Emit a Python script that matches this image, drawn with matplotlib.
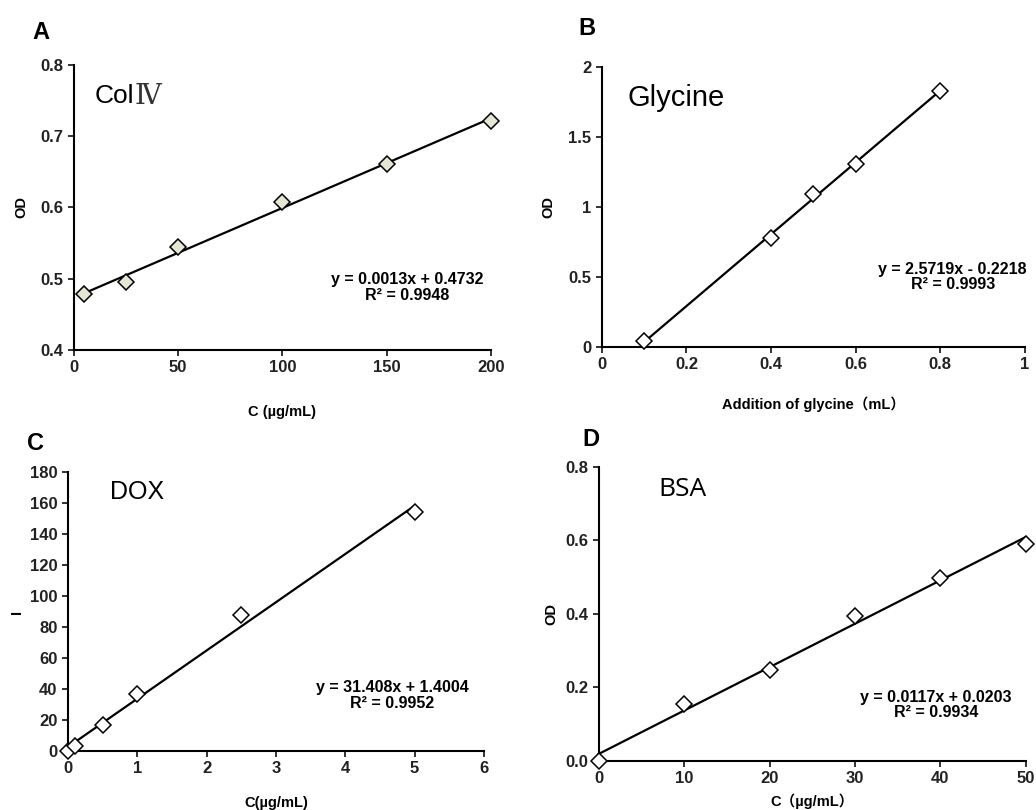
import matplotlib
matplotlib.use("Agg")
import matplotlib.pyplot as plt
import numpy as np

plt.rcParams['font.family'] = ['Liberation Sans', 'Noto Sans CJK SC', 'DejaVu Sans']

# panel A - Col IV
a_x = [5, 25, 50, 100, 150, 200]
a_y = [0.478, 0.495, 0.545, 0.608, 0.661, 0.721]
# panel B - glycine
b_x = [0.1, 0.4, 0.5, 0.6, 0.8]
b_y = [0.04, 0.78, 1.09, 1.31, 1.83]
# panel C - DOX
c_x = [0, 0.1, 0.5, 1, 2.5, 5]
c_y = [0, 3, 17, 37, 88, 154]
# panel D - BSA
d_x = [0, 10, 20, 30, 40, 50]
d_y = [0.0, 0.155, 0.248, 0.394, 0.498, 0.591]

fig = plt.figure(figsize=(10.36, 8.1), dpi=100)

def panel(rect, x, y, xlim, ylim, xticks, yticks, yfmt, xlab, ylab,
          eq, eq_pos, mfc, xpad, ypad):
    ax = fig.add_axes(rect)
    ax.set_xlim(*xlim)
    ax.set_ylim(*ylim)
    # trendline, least squares like excel
    k, b = np.polyfit(x, y, 1)
    xs = np.array([min(x), max(x)])
    ax.plot(xs, k * xs + b, color='black', lw=1.6, clip_on=False)
    ax.plot(x, y, ls='none', marker='D', ms=8, mfc=mfc, mec='black', mew=1.1,
            clip_on=False, zorder=5)
    ax.spines['top'].set_visible(False)
    ax.spines['right'].set_visible(False)
    for s in ['left', 'bottom']:
        ax.spines[s].set_linewidth(1.5)
    ax.set_xticks(xticks)
    ax.set_yticks(yticks)
    ax.set_xticklabels([('%g' % t) for t in xticks])
    ax.set_yticklabels([(yfmt % t) for t in yticks])
    ax.tick_params(direction='out', length=4, width=1.3, labelsize=12,
                   colors='#222222')
    for lab in ax.get_xticklabels() + ax.get_yticklabels():
        lab.set_fontweight('bold')
    ax.set_xlabel(xlab, fontsize=10.5, fontweight='bold', labelpad=xpad)
    ax.set_ylabel(ylab, fontsize=10.5, fontweight='bold', labelpad=ypad)
    ax.text(eq_pos[0], eq_pos[1], eq, transform=ax.transAxes, fontsize=11.5,
            fontweight='bold', ha='center', va='center', linespacing=1.05)
    return ax

axA = panel([0.0714, 0.5679, 0.4025, 0.3519], a_x, a_y,
            (0, 200), (0.4, 0.8), [0, 50, 100, 150, 200], [0.4, 0.5, 0.6, 0.7, 0.8],
            '%g', 'C (µg/mL)', 'OD',
            'y = 0.0013x + 0.4732\nR² = 0.9948', (0.80, 0.22), '#e6e6d6', 21, 9)
t1 = axA.text(0.05, 0.89, 'Col', transform=axA.transAxes, fontsize=19,
              ha='left', va='center')
axA.annotate('Ⅳ', xy=(1.0, 0.5), xycoords=t1, fontsize=20, ha='left',
             va='center', family=['DejaVu Serif', 'Noto Sans CJK SC'],
             color='#333333')

axB = panel([0.581, 0.5716, 0.408, 0.3457], b_x, b_y,
            (0, 1), (0, 2), [0, 0.2, 0.4, 0.6, 0.8, 1], [0, 0.5, 1, 1.5, 2],
            '%g', 'Addition of glycine（mL）', 'OD',
            'y = 2.5719x - 0.2218\nR² = 0.9993', (0.83, 0.25), 'white', 17, 9)
axB.text(0.06, 0.89, 'Glycine', transform=axB.transAxes, fontsize=21,
         ha='left', va='center')

axC = panel([0.0656, 0.0728, 0.4015, 0.3444], c_x, c_y,
            (0, 6), (0, 180), [0, 1, 2, 3, 4, 5, 6], list(range(0, 181, 20)),
            '%g', 'C(µg/mL)', 'I',
            'y = 31.408x + 1.4004\nR² = 0.9952', (0.78, 0.20), 'white', 14, 4)
axC.text(0.10, 0.93, 'DOX', transform=axC.transAxes, fontsize=18,
         ha='left', va='center')

axD = panel([0.578, 0.0605, 0.412, 0.363], d_x, d_y,
            (0, 50), (0, 0.8), [0, 10, 20, 30, 40, 50], [0, 0.2, 0.4, 0.6, 0.8],
            '%.1f', 'C（µg/mL）', 'OD',
            'y = 0.0117x + 0.0203\nR² = 0.9934', (0.79, 0.19), 'white', 5, 5)
axD.text(0.14, 0.925, 'BSA', transform=axD.transAxes, fontsize=19,
         ha='left', va='center', family='Open Sans')

for lab, x, y in [('A', 0.031, 0.96), ('B', 0.558, 0.965),
                  ('C', 0.026, 0.453), ('D', 0.562, 0.457)]:
    fig.text(x, y, lab, fontsize=17, fontweight='bold', ha='left', va='center')

fig.savefig('out.png', dpi=100)
